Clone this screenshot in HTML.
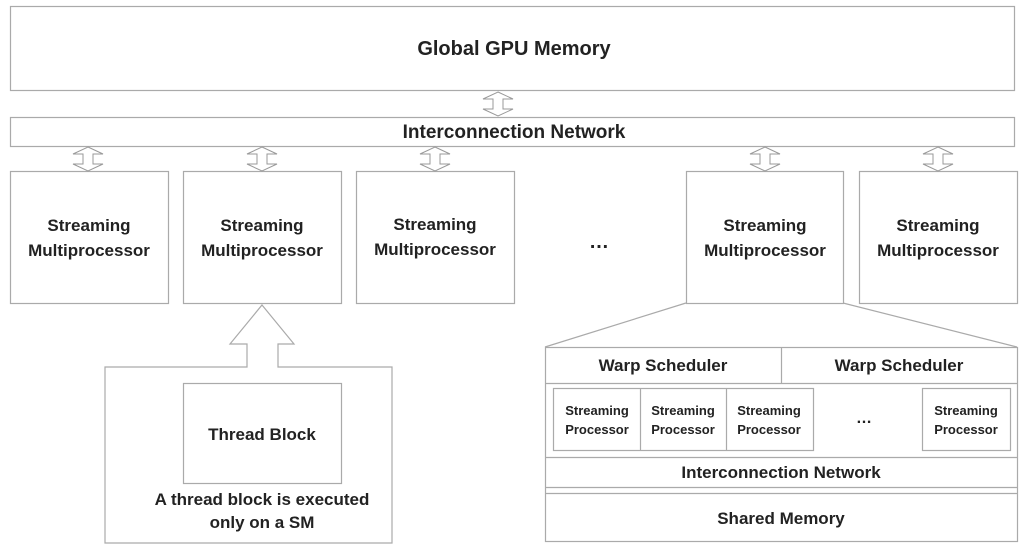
<!DOCTYPE html>
<html><head><style>
body{margin:0;width:1024px;height:549px;background:#fff;overflow:hidden}
svg text{font-family:"Liberation Sans",sans-serif;font-weight:bold;fill:#222;text-anchor:middle}
</style></head><body>
<svg width="1024" height="549" viewBox="0 0 1024 549">
<defs>
<g id="da"><polygon points="0,-12 15,-5 5,-5 5,5 15,5 0,12 -15,5 -5,5 -5,-5 -15,-5" fill="#fff" stroke="#999" stroke-width="1"/></g>
</defs>
<g fill="none" stroke="#aaa" stroke-width="1.2">
<rect x="10.5" y="6.5" width="1004" height="84"/>
<rect x="10.5" y="117.5" width="1004" height="29"/>
<rect x="10.5" y="171.5" width="158" height="132"/>
<rect x="183.5" y="171.5" width="158" height="132"/>
<rect x="356.5" y="171.5" width="158" height="132"/>
<rect x="686.5" y="171.5" width="157" height="132"/>
<rect x="859.5" y="171.5" width="158" height="132"/>
<polygon points="262,305 294,344 278,344 278,367 392,367 392,543 105,543 105,367 247,367 247,344 230,344" fill="#fff"/>
<rect x="183.5" y="383.5" width="158" height="100"/>
<line x1="686" y1="303" x2="545" y2="347"/>
<line x1="843" y1="303" x2="1017" y2="347"/>
<rect x="545.5" y="347.5" width="472" height="194"/>
<line x1="545" y1="383.5" x2="1017" y2="383.5"/>
<line x1="781.5" y1="347" x2="781.5" y2="383"/>
<rect x="553.5" y="388.5" width="260" height="62"/>
<line x1="640.5" y1="388" x2="640.5" y2="450"/>
<line x1="726.5" y1="388" x2="726.5" y2="450"/>
<rect x="922.5" y="388.5" width="88" height="62"/>
<line x1="545" y1="457.5" x2="1017" y2="457.5"/>
<line x1="545" y1="487.5" x2="1017" y2="487.5"/>
<line x1="545" y1="493.5" x2="1017" y2="493.5"/>
</g>
<use href="#da" x="498" y="104"/>
<use href="#da" x="88" y="159"/>
<use href="#da" x="262" y="159"/>
<use href="#da" x="435" y="159"/>
<use href="#da" x="765" y="159"/>
<use href="#da" x="938" y="159"/>
<text x="514" y="55" font-size="20">Global GPU Memory</text>
<text x="514" y="138" font-size="19">Interconnection Network</text>
<g font-size="17">
<text x="89" y="231">Streaming</text><text x="89" y="256">Multiprocessor</text>
<text x="262" y="231">Streaming</text><text x="262" y="256">Multiprocessor</text>
<text x="435" y="230">Streaming</text><text x="435" y="255">Multiprocessor</text>
<text x="765" y="231">Streaming</text><text x="765" y="256">Multiprocessor</text>
<text x="938" y="231">Streaming</text><text x="938" y="256">Multiprocessor</text>
</g>
<text x="599" y="248" font-size="20">…</text>
<text x="262" y="440" font-size="17">Thread Block</text>
<text x="262" y="505" font-size="17">A thread block is executed</text>
<text x="262" y="528" font-size="17">only on a SM</text>
<text x="663" y="371" font-size="17">Warp Scheduler</text>
<text x="899" y="371" font-size="17">Warp Scheduler</text>
<g font-size="13">
<text x="597" y="415">Streaming</text><text x="597" y="434">Processor</text>
<text x="683" y="415">Streaming</text><text x="683" y="434">Processor</text>
<text x="769" y="415">Streaming</text><text x="769" y="434">Processor</text>
<text x="966" y="415">Streaming</text><text x="966" y="434">Processor</text>
</g>
<text x="864" y="423" font-size="16">…</text>
<text x="781" y="478" font-size="17">Interconnection Network</text>
<text x="781" y="524" font-size="17">Shared Memory</text>
</svg>
</body></html>
